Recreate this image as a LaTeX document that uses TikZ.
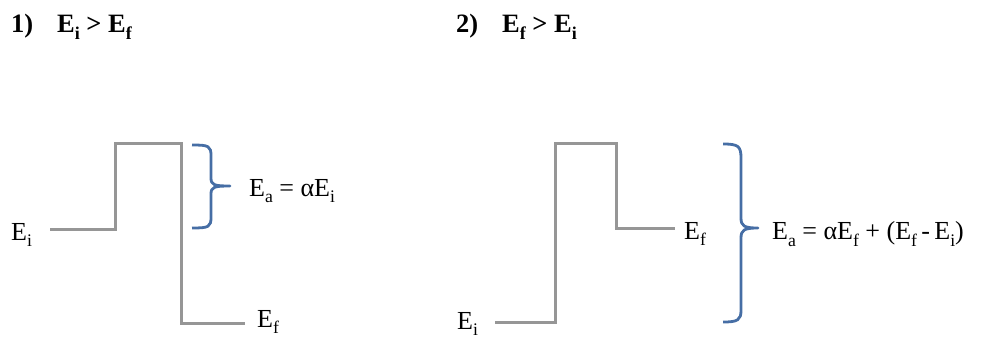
\documentclass[tikz,border=0pt]{standalone}
\usepackage{fontspec}
\setmainfont{Liberation Serif}
\usepackage{graphicx}
\newcommand{\lo}[1]{\raisebox{-0.26em}{\scalebox{0.68}{#1}}}
\definecolor{lvl}{RGB}{150,150,150}
\definecolor{brc}{RGB}{70,110,165}
\tikzset{
  level/.style={draw=lvl, line width=3pt},
  bracepath/.style={draw=brc, line width=2.8pt, line join=round},
  lbl/.style={inner sep=0pt, font=\fontsize{26}{30}\selectfont},
  ttl/.style={inner sep=0pt, anchor=west, font=\fontsize{26.5}{30}\selectfont\bfseries},
}
\begin{document}
\begin{tikzpicture}[x=1pt,y=-1pt]
\useasboundingbox (0,0) rectangle (1008,340);
% titles
\node[ttl] (t1) at (11,27) {1)\hspace{0.9em}E\lo{i} > E\lo{f}};
\node[ttl] (t2) at (456,27) {2)\hspace{0.9em}E\lo{f} > E\lo{i}};
% ---- diagram 1
\coordinate (a0) at (50,229);
\coordinate (a1) at (115,229);
\coordinate (a2) at (115,143);
\coordinate (a3) at (181,143);
\coordinate (a4) at (181,323);
\coordinate (a5) at (245,323);
\draw[level] (a0) -- (a1) -- (a2) -- (a3) -- (a4) -- (a5);
\node[lbl, anchor=west] (ei1) at (11,235) {E\lo{i}};
\node[lbl, anchor=west] (ef1) at (257,322) {E\lo{f}};
\coordinate (b1t) at (192,145);
\coordinate (b1b) at (192,228);
\coordinate (b1m) at (230,186);
\draw[bracepath] (b1t) .. controls (209,145) and (211,146) .. (211,156)
  -- (211,178) .. controls (211,185) and (214,186) .. (b1m)
  .. controls (214,186) and (211,187) .. (211,194)
  -- (211,217) .. controls (211,227) and (209,228) .. (b1b);
\node[lbl, anchor=west] (ea1) at (249,191) {E\lo{a} = αE\lo{i}};
% ---- diagram 2
\coordinate (c0) at (495,322);
\coordinate (c1) at (555,322);
\coordinate (c2) at (555,143);
\coordinate (c3) at (616,143);
\coordinate (c4) at (616,228);
\coordinate (c5) at (675,228);
\draw[level] (c0) -- (c1) -- (c2) -- (c3) -- (c4) -- (c5);
\node[lbl, anchor=west] (ei2) at (457,324) {E\lo{i}};
\node[lbl, anchor=west] (ef2) at (684,234) {E\lo{f}};
\coordinate (b2t) at (723,144);
\coordinate (b2b) at (723,322);
\coordinate (b2m) at (758,228);
\draw[bracepath] (b2t) .. controls (738,144) and (741,146) .. (741,158)
  -- (741,218) .. controls (741,226) and (744,228) .. (b2m)
  .. controls (744,228) and (741,230) .. (741,238)
  -- (741,310) .. controls (741,320) and (738,322) .. (b2b);
\node[lbl, anchor=west] (ea2) at (772,234) {E\lo{a} = αE\lo{f} + (E\lo{f}\,-\,E\lo{i})};
\end{tikzpicture}
\end{document}
